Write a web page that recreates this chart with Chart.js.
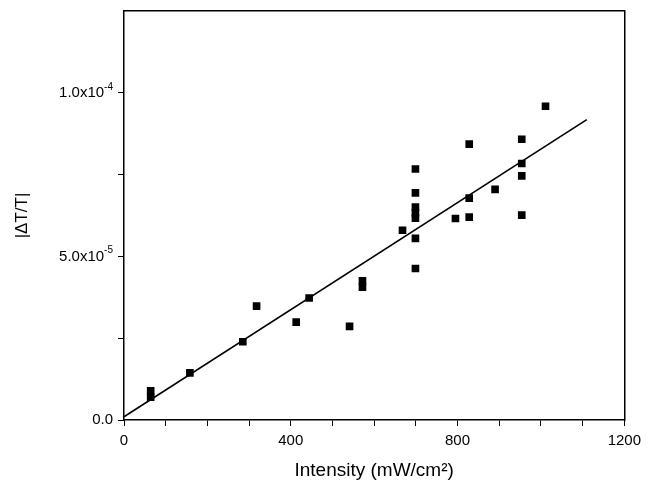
<!DOCTYPE html>
<html lang="en">
<head>
  <meta charset="UTF-8">
  <title>|ΔT/T| vs Intensity</title>
  <script src="https://cdn.jsdelivr.net/npm/chart.js"></script>
  <style>
    html, body { margin: 0; padding: 0; background: #fff; }
    #wrap { width: 647px; height: 482px; position: relative; }
  </style>
</head>
<body>
<div id="wrap"><canvas id="grafico"></canvas></div>
<script>
  // measured points
  const intensity = [64, 64, 158, 285, 318, 413, 444, 541, 572, 572, 668,
    699, 699, 699, 699, 699, 699, 699, 795, 828, 828, 828, 890,
    954, 954, 954, 954, 1011];
  const deltaT = [8.9e-6, 7.0e-6, 1.44e-5, 2.39e-5, 3.48e-5, 2.99e-5, 3.73e-5, 2.86e-5, 4.25e-5, 4.06e-5, 5.80e-5,
    7.67e-5, 6.94e-5, 6.51e-5, 6.33e-5, 6.17e-5, 5.55e-5, 4.63e-5, 6.16e-5, 8.43e-5, 6.78e-5, 6.20e-5, 7.05e-5,
    8.58e-5, 7.84e-5, 7.46e-5, 6.26e-5, 9.59e-5];

  // linear fit
  const fitX = [0, 1110];
  const fitY = [1.0e-6, 9.18e-5];

  const xLabels = [0, 400, 800, 1200];
  const yLabels = [[0, '0.0', ''], [5e-5, '5.0x10', '-5'], [1e-4, '1.0x10', '-4']];

  const fonte = '"Liberation Sans", Arial, sans-serif';

  // y labels with superscript exponent
  const rotulosY = {
    id: 'rotulosY',
    afterDraw(chart) {
      const ctx = chart.ctx;
      const y = chart.scales.y;
      const right = chart.chartArea.left - 11;
      ctx.save();
      ctx.fillStyle = '#000';
      ctx.textBaseline = 'middle';
      yLabels.forEach(([v, base, exp]) => {
        const py = y.getPixelForValue(v);
        ctx.font = '10px ' + fonte;
        const wExp = exp ? ctx.measureText(exp).width : 0;
        ctx.textAlign = 'left';
        if (exp) ctx.fillText(exp, right - wExp, py - 6);
        ctx.font = '15px ' + fonte;
        ctx.textAlign = 'right';
        ctx.fillText(base, right - wExp, py);
      });
      ctx.restore();
    }
  };

  const pontos = intensity.map((x, i) => ({ x, y: deltaT[i] }));
  const reta = fitX.map((x, i) => ({ x, y: fitY[i] }));

  new Chart(document.getElementById('grafico'), {
    type: 'scatter',
    data: {
      datasets: [
        {
          data: pontos,
          pointStyle: 'rect',
          pointRadius: 5.4,
          pointHoverRadius: 5.4,
          backgroundColor: '#000',
          borderColor: '#000',
          borderWidth: 0
        },
        {
          type: 'line',
          data: reta,
          borderColor: '#000',
          borderWidth: 1.6,
          pointRadius: 0,
          fill: false
        }
      ]
    },
    options: {
      responsive: true,
      maintainAspectRatio: false,
      animation: false,
      layout: { padding: { top: 11, right: 18, left: 0, bottom: 0 } },
      plugins: {
        legend: { display: false },
        tooltip: { enabled: false }
      },
      scales: {
        x: {
          type: 'linear',
          min: 0,
          max: 1200,
          afterFit: (s) => { s.height = 62; },
          border: { color: '#000', width: 1.5 },
          grid: {
            drawOnChartArea: false,
            drawTicks: true,
            tickLength: 6,
            color: '#000',
            lineWidth: 1
          },
          ticks: {
            stepSize: 100,
            autoSkip: false,
            maxRotation: 0,
            padding: 6,
            color: '#000',
            font: { family: fonte, size: 15 },
            callback: (v) => xLabels.includes(v) ? String(v) : ''
          },
          title: {
            display: true,
            text: 'Intensity (mW/cm²)',
            color: '#000',
            font: { family: fonte, size: 19 },
            padding: { top: 2, bottom: 0 }
          }
        },
        y: {
          type: 'linear',
          min: 0,
          max: 1.25e-4,
          afterFit: (s) => { s.width = 124; },
          border: { color: '#000', width: 1.5 },
          grid: {
            drawOnChartArea: false,
            drawTicks: true,
            tickLength: 6,
            color: (c) => (c.tick && c.tick.value > 1.2e-4) ? 'rgba(0,0,0,0)' : '#000',
            lineWidth: 1
          },
          ticks: {
            stepSize: 2.5e-5,
            autoSkip: false,
            color: '#000',
            callback: () => ''
          },
          title: {
            display: true,
            text: '|ΔT/T|',
            color: '#000',
            font: { family: fonte, size: 17 },
            padding: { top: 12, bottom: 0 }
          }
        },
        x2: {
          type: 'linear',
          position: 'top',
          min: 0,
          max: 1200,
          afterFit: (s) => { s.height = 0; },
          border: { color: '#000', width: 1.5 },
          grid: { display: false, drawTicks: false },
          ticks: { display: false }
        },
        y2: {
          type: 'linear',
          position: 'right',
          min: 0,
          max: 1.25e-4,
          afterFit: (s) => { s.width = 0; },
          border: { color: '#000', width: 1.5 },
          grid: { display: false, drawTicks: false },
          ticks: { display: false }
        }
      }
    },
    plugins: [rotulosY]
  });
</script>
</body>
</html>
